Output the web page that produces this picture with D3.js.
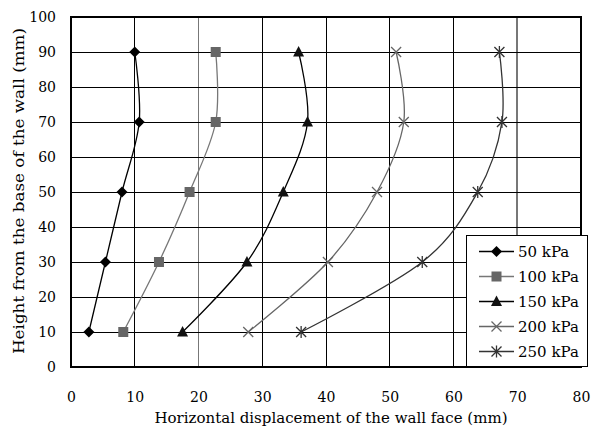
<!DOCTYPE html>
<html>
<head>
<meta charset="utf-8">
<script src="https://cdn.jsdelivr.net/npm/d3@7"></script>
<style>
  body { margin: 0; background: #fff; }
</style>
</head>
<body>
<svg id="chart" width="591" height="434"></svg>
<script>
// Heights of the measurement points (mm)
const heights = [10, 30, 50, 70, 90];

// Horizontal displacement of the wall face (mm) per surcharge
const disp50  = [2.8, 5.4, 8.0, 10.7, 10.0];
const disp100 = [8.2, 13.8, 18.6, 22.7, 22.7];
const disp150 = [17.5, 27.6, 33.3, 37.1, 35.7];
const disp200 = [27.8, 40.3, 48.0, 52.2, 51.0];
const disp250 = [36.1, 55.1, 63.8, 67.6, 67.2];

const seriesNames = ["50 kPa", "100 kPa", "150 kPa", "200 kPa", "250 kPa"];
const xTicks = [0, 10, 20, 30, 40, 50, 60, 70, 80];
const yTicks = [0, 10, 20, 30, 40, 50, 60, 70, 80, 90, 100];

const FONT = "DejaVu Serif, serif";

const series = [
  { name: seriesNames[0], values: disp50,  color: "#000", fill: "#000", marker: "diamond" },
  { name: seriesNames[1], values: disp100, color: "#777", fill: "#666", marker: "square" },
  { name: seriesNames[2], values: disp150, color: "#000", fill: "#111", marker: "triangle" },
  { name: seriesNames[3], values: disp200, color: "#666", fill: "#666", marker: "x" },
  { name: seriesNames[4], values: disp250, color: "#333", fill: "#333", marker: "star" }
];

const svg = d3.select("#chart").attr("font-family", FONT);
const margin = { left: 71, top: 17, right: 581, bottom: 367 };

const x = d3.scaleLinear().domain([0, 80]).range([margin.left, margin.right]);
const y = d3.scaleLinear().domain([0, 100]).range([margin.bottom, margin.top]);

// Grid
const grid = svg.append("g");
grid.selectAll("line.v").data(xTicks.slice(1, -1)).join("line")
  .attr("x1", d => x(d)).attr("x2", d => x(d))
  .attr("y1", y(0)).attr("y2", y(100))
  .attr("stroke", d => (d === 20 || d === 70) ? "#777" : "#000")
  .attr("stroke-width", d => (d === 20 || d === 70) ? 1.6 : 1)
  .attr("shape-rendering", "crispEdges");
grid.selectAll("line.h").data(yTicks.slice(1, -1)).join("line")
  .attr("x1", x(0)).attr("x2", x(80))
  .attr("y1", d => y(d)).attr("y2", d => y(d))
  .attr("stroke", "#000").attr("stroke-width", 1)
  .attr("shape-rendering", "crispEdges");

// Plot frame
svg.append("rect")
  .attr("x", x(0)).attr("y", y(100))
  .attr("width", x(80) - x(0)).attr("height", y(0) - y(100))
  .attr("fill", "none").attr("stroke", "#000").attr("stroke-width", 1.5)
  .attr("shape-rendering", "crispEdges");

// Axes (labels only; frame drawn above)
const xAxis = svg.append("g").attr("transform", `translate(0,${y(0)})`)
  .call(d3.axisBottom(x).tickValues(xTicks).tickSize(0).tickPadding(25));
xAxis.select(".domain").remove();
xAxis.attr("font-size", 14).attr("font-family", FONT);
xAxis.selectAll("text").attr("fill", "#000");

const yAxis = svg.append("g").attr("transform", `translate(${x(0)},0)`)
  .call(d3.axisLeft(y).tickValues(yTicks).tickSize(0).tickPadding(15));
yAxis.select(".domain").remove();
yAxis.attr("font-size", 14).attr("font-family", FONT);
yAxis.selectAll("text").attr("fill", "#000");

// Axis titles
svg.append("text")
  .attr("x", 331).attr("y", 423)
  .attr("text-anchor", "middle").attr("font-size", 15)
  .text("Horizontal displacement of the wall face (mm)");
svg.append("text")
  .attr("transform", `translate(24,191) rotate(-90)`)
  .attr("text-anchor", "middle").attr("font-size", 15)
  .attr("textLength", 326).attr("lengthAdjust", "spacingAndGlyphs")
  .text("Height from the base of the wall (mm)");

// Marker drawing
function drawMarker(g, type, cx, cy, s) {
  const c = s.color, f = s.fill;
  if (type === "diamond") {
    g.append("path").attr("d", `M${cx},${cy - 5.5}L${cx + 5.5},${cy}L${cx},${cy + 5.5}L${cx - 5.5},${cy}Z`).attr("fill", f);
  } else if (type === "square") {
    g.append("rect").attr("x", cx - 5).attr("y", cy - 5).attr("width", 10).attr("height", 10).attr("fill", f);
  } else if (type === "triangle") {
    g.append("path").attr("d", `M${cx},${cy - 6}L${cx + 5.5},${cy + 4.5}L${cx - 5.5},${cy + 4.5}Z`).attr("fill", f);
  } else if (type === "x") {
    g.append("path").attr("d", `M${cx - 5},${cy - 5}L${cx + 5},${cy + 5}M${cx - 5},${cy + 5}L${cx + 5},${cy - 5}`)
      .attr("stroke", c).attr("stroke-width", 1.3).attr("fill", "none");
  } else if (type === "star") {
    g.append("path").attr("d", `M${cx - 5},${cy - 5}L${cx + 5},${cy + 5}M${cx - 5},${cy + 5}L${cx + 5},${cy - 5}M${cx},${cy - 6}L${cx},${cy + 6}`)
      .attr("stroke", c).attr("stroke-width", 1.3).attr("fill", "none");
  }
}

// Smoothed series lines
const line = d3.line()
  .x(d => x(d[0])).y(d => y(d[1]))
  .curve(d3.curveCatmullRom.alpha(0));

series.forEach(s => {
  const pts = s.values.map((v, i) => [v, heights[i]]);
  svg.append("path").datum(pts)
    .attr("d", line)
    .attr("fill", "none").attr("stroke", s.color).attr("stroke-width", 1.3);
  const mg = svg.append("g");
  pts.forEach(p => drawMarker(mg, s.marker, x(p[0]), y(p[1]), s));
});

// Legend
const lg = svg.append("g");
lg.append("rect")
  .attr("x", 466.5).attr("y", 235.5).attr("width", 121).attr("height", 131)
  .attr("fill", "#fff").attr("stroke", "#000").attr("stroke-width", 1);
series.forEach((s, i) => {
  const ly = 251.5 + i * 25;
  lg.append("line").attr("x1", 479).attr("x2", 514).attr("y1", ly).attr("y2", ly)
    .attr("stroke", s.color).attr("stroke-width", 1.3);
  drawMarker(lg, s.marker, 496.5, ly, s);
  lg.append("text").attr("x", 518).attr("y", ly + 5)
    .attr("font-size", 15).text(s.name);
});
</script>
</body>
</html>
